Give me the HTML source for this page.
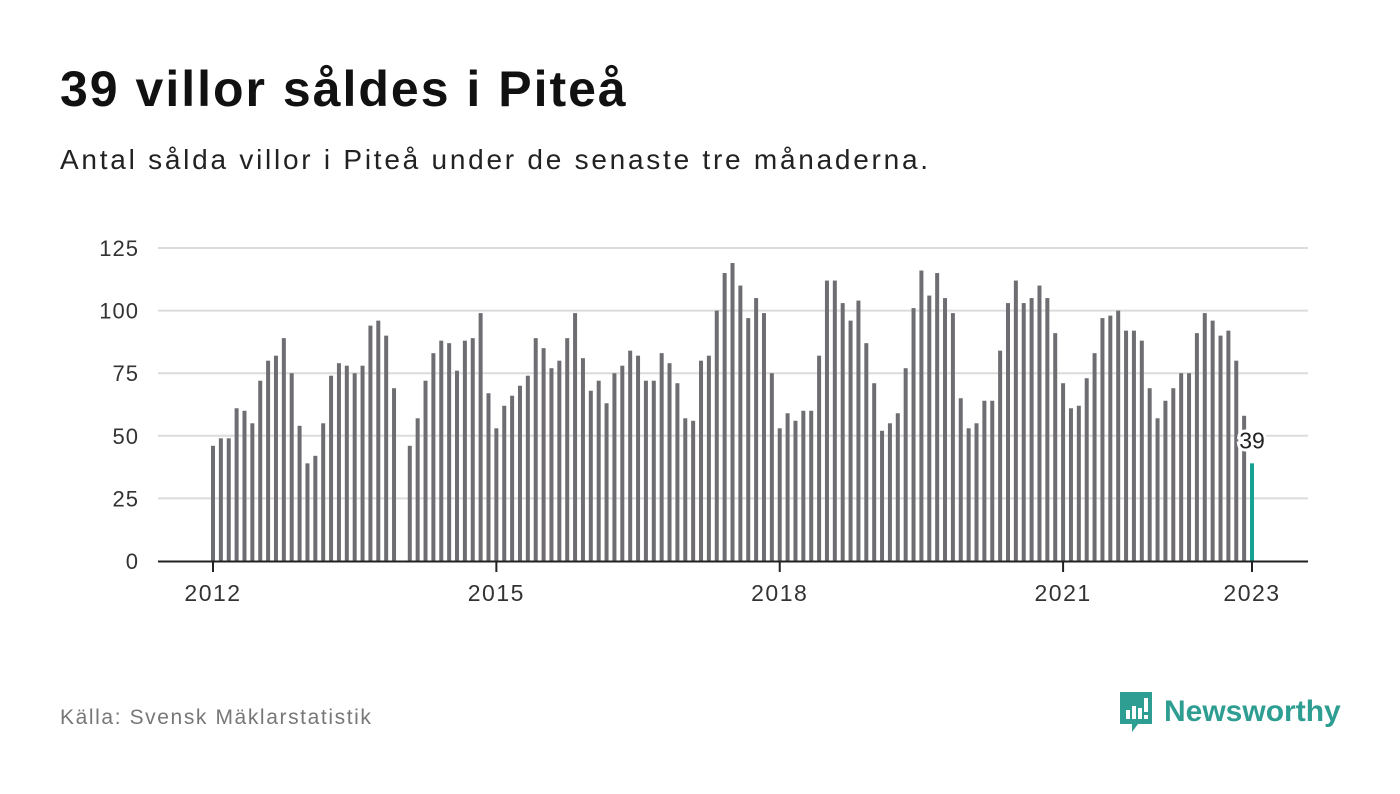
<!DOCTYPE html>
<html><head><meta charset="utf-8"><style>
body{margin:0;background:#fff;width:1400px;height:794px;overflow:hidden;font-family:"Liberation Sans",sans-serif;position:relative}
#title{position:absolute;left:60px;top:60px;font-size:50px;font-weight:bold;color:#111;margin:0;letter-spacing:2px;white-space:nowrap}
#sub{position:absolute;left:60px;top:144px;font-size:28px;color:#222;letter-spacing:2.75px;white-space:nowrap}
#src{position:absolute;left:60px;top:706px;font-size:21px;color:#777;letter-spacing:1.6px;white-space:nowrap}
#logo{position:absolute;left:1118px;top:690px;display:flex;align-items:center}
#logo span{font-size:30px;font-weight:bold;color:#2f9e92;margin-left:10px}
</style></head><body>
<h1 id="title">39 villor såldes i Piteå</h1>
<div id="sub">Antal sålda villor i Piteå under de senaste tre månaderna.</div>
<svg id="chart" width="1400" height="794" style="position:absolute;left:0;top:0"></svg>
<div id="src">Källa: Svensk Mäklarstatistik</div>
<div id="logo">
<svg width="36" height="44" viewBox="0 0 36 44"><path d="M2 2h32v32H20l-6 8v-8H2z" fill="#2f9e92"/><rect x="8" y="20" width="4" height="9" fill="#fff"/><rect x="14" y="16" width="4" height="13" fill="#fff"/><rect x="20" y="18" width="4" height="11" fill="#fff"/><rect x="26" y="8" width="4" height="14" fill="#fff"/><rect x="26" y="25" width="4" height="4" fill="#fff"/></svg>
<span>Newsworthy</span></div>
<script>
const values=[46,49,49,61,60,55,72,80,82,89,75,54,
39,42,55,74,79,78,75,78,94,96,90,69,
null,46,57,72,83,88,87,76,88,89,99,67,
53,62,66,70,74,89,85,77,80,89,99,81,
68,72,63,75,78,84,82,72,72,83,79,71,
57,56,80,82,100,115,119,110,97,105,99,75,
53,59,56,60,60,82,112,112,103,96,104,87,
71,52,55,59,77,101,116,106,115,105,99,65,
53,55,64,64,84,103,112,103,105,110,105,91,
71,61,62,73,83,97,98,100,92,92,88,69,
57,64,69,75,75,91,99,96,90,92,80,58,
39];
const yTicks=[0,25,50,75,100,125];
const xTickLabels=["2012","2015","2018","2021","2023"];
const xTickIndex=[0,36,72,108,132];
const svg=document.getElementById('chart');
const NS='http://www.w3.org/2000/svg';
const X=i=>213+i*(1252-213)/132;
const Y=v=>561-v*(561-248)/125;
function mk(t,a){const e=document.createElementNS(NS,t);for(const k in a)e.setAttribute(k,a[k]);svg.appendChild(e);return e;}
yTicks.forEach(t=>{
 if(t>0){const g=mk('line',{x1:158,x2:1308,y1:Y(t),y2:Y(t),stroke:'#dcdcdc','stroke-width':2});
 
 }
 const l=mk('text',{x:139,y:Y(t)+8,'text-anchor':'end','font-size':22,'letter-spacing':1,fill:'#333','font-family':'Liberation Sans, sans-serif'});
 l.textContent=t;
 
 
});
values.forEach((v,i)=>{
 if(v==null)return;
 const last=i===values.length-1;
 const r=mk('rect',{x:X(i)-2,y:Y(v),width:4,height:Y(0)-Y(v),fill:last?'#17a394':'#6e6e72'});
 
 
});
const ax=mk('line',{x1:158,x2:1308,y1:561.5,y2:561.5,stroke:'#222','stroke-width':2});


xTickIndex.forEach((idx,k)=>{
 const tk=mk('line',{x1:X(idx),x2:X(idx),y1:562,y2:572,stroke:'#222','stroke-width':2});
 
 
 const l=mk('text',{x:X(idx),y:601,'text-anchor':'middle','font-size':23,'letter-spacing':1.5,fill:'#333','font-family':'Liberation Sans, sans-serif'});
 l.textContent=xTickLabels[k];
 
 
});
const li=values.length-1;
const lab=mk('text',{x:X(li),y:Y(values[li])-15,'text-anchor':'middle','font-size':23,fill:'#222',stroke:'#fff','stroke-width':6,'paint-order':'stroke','font-family':'Liberation Sans, sans-serif'});
lab.textContent=values[li];


</script>
</body></html>
